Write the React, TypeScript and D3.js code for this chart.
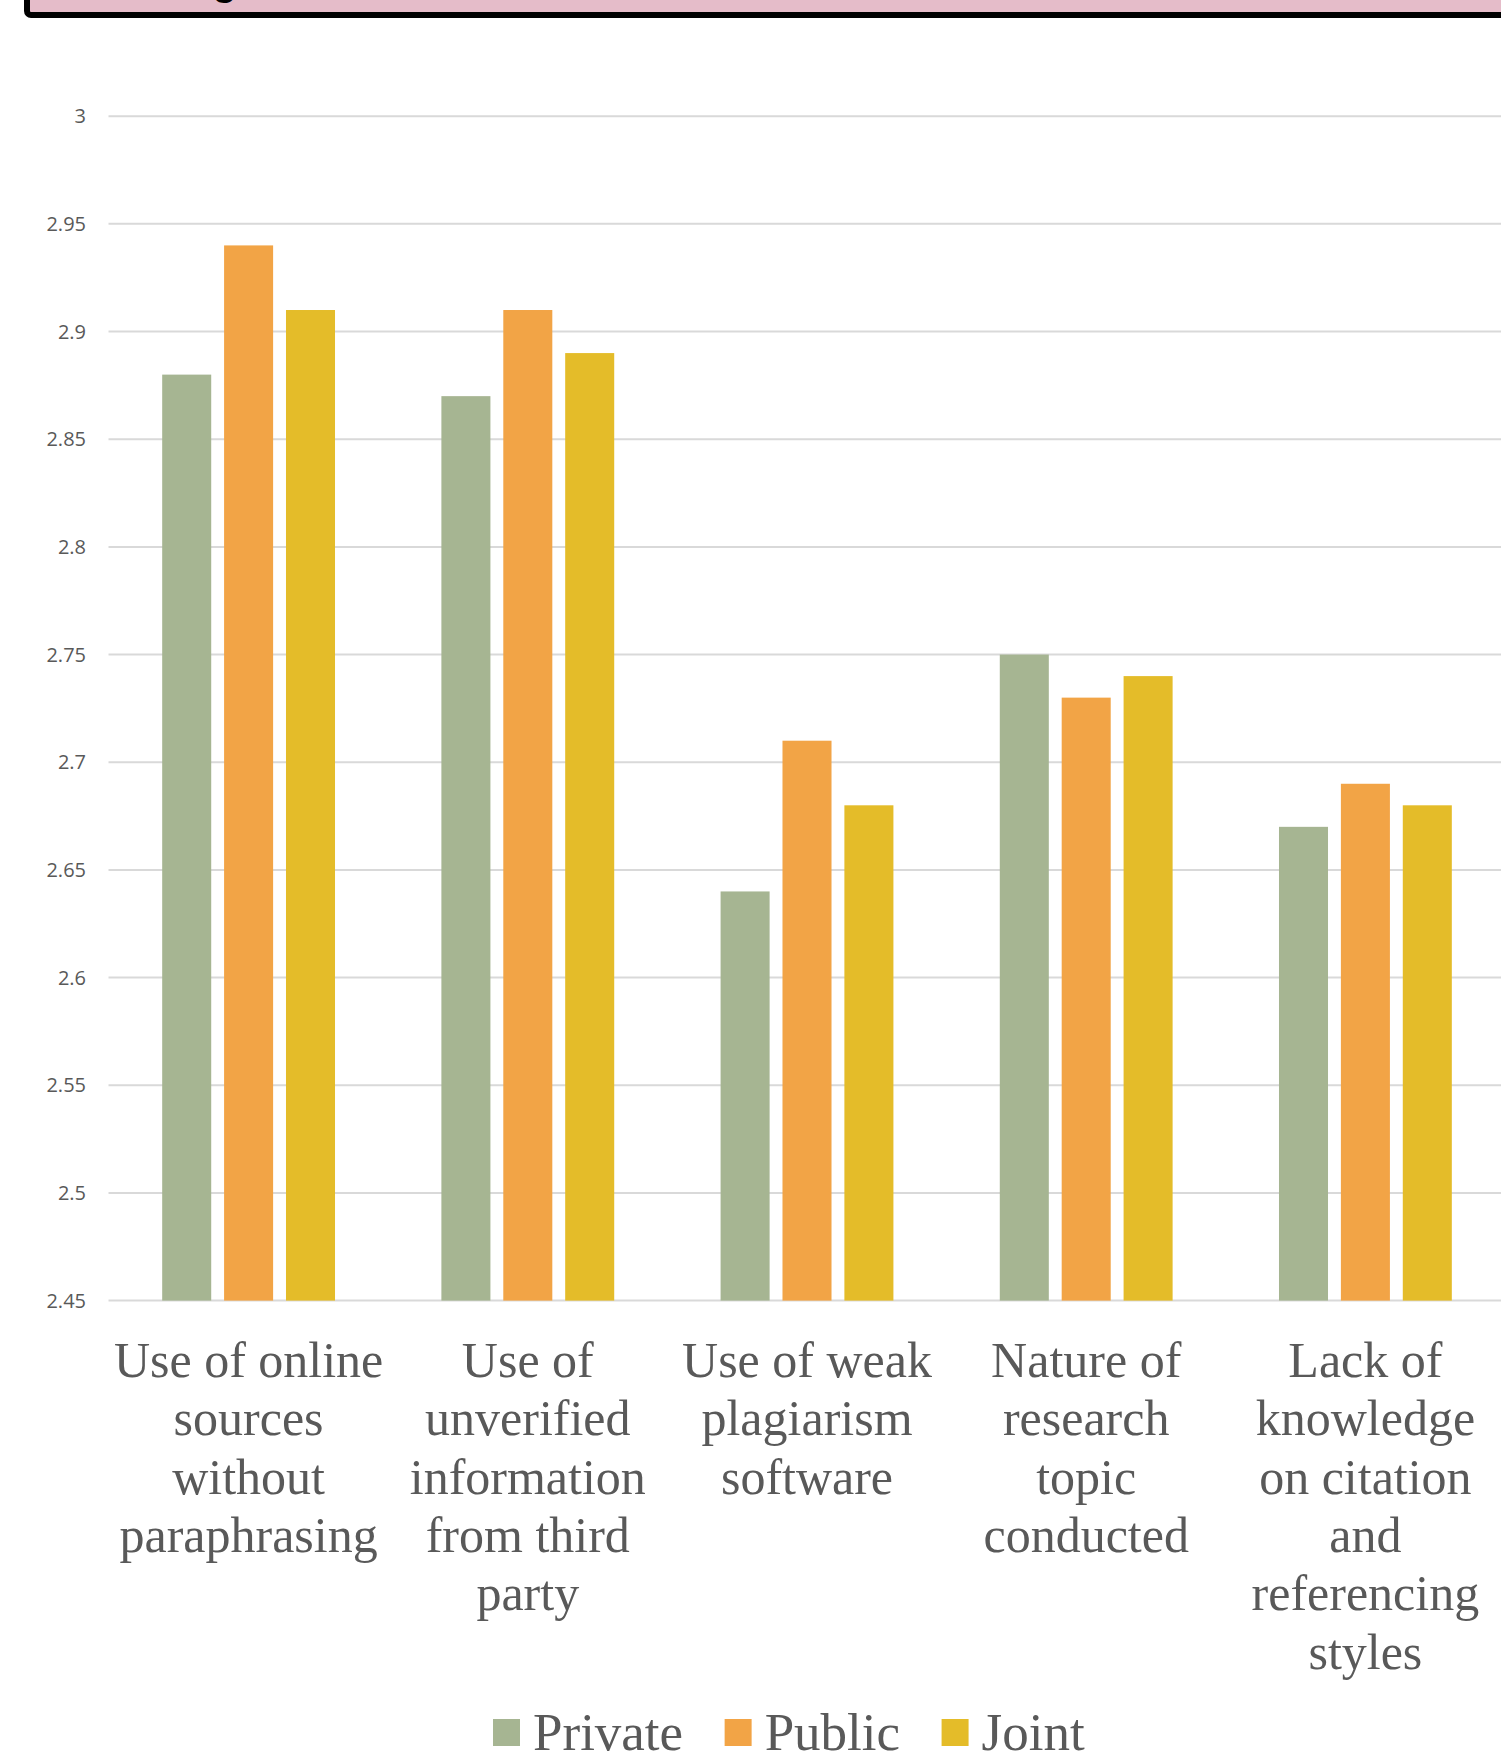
import React, { useEffect, useRef } from "react";
import * as d3 from "d3";

// Chart data
const categories = [
  "Use of online sources without paraphrasing",
  "Use of unverified information from third party",
  "Use of weak plagiarism software",
  "Nature of research topic conducted",
  "Lack of knowledge on citation and referencing styles",
];
const seriesNames = ["Private", "Public", "Joint"];
const privateValues = [2.88, 2.87, 2.64, 2.75, 2.67];
const publicValues = [2.94, 2.91, 2.71, 2.73, 2.69];
const jointValues = [2.91, 2.89, 2.68, 2.74, 2.68];
const tickValues = [2.45, 2.5, 2.55, 2.6, 2.65, 2.7, 2.75, 2.8, 2.85, 2.9, 2.95, 3];
const seriesColors = ["#A6B592", "#F2A446", "#E4BC29"];

const W = 1501;
const H = 1752;

export default function App() {
  const ref = useRef<SVGSVGElement | null>(null);

  useEffect(() => {
    const svg = d3.select(ref.current);
    svg.selectAll("*").remove();

    const seriesValues = [privateValues, publicValues, jointValues];

    const plotLeft = 109;
    const plotRight = 1505;
    const y = d3.scaleLinear().domain([2.45, 3]).range([1300.6, 116.2]);
    const x0 = d3
      .scaleBand<string>()
      .domain(categories)
      .range([plotLeft, plotRight])
      .paddingInner(0.381)
      .paddingOuter(0.1905);
    const x1 = d3
      .scaleBand<string>()
      .domain(seriesNames)
      .range([0, x0.bandwidth()])
      .paddingInner(0.208)
      .paddingOuter(0);

    // Header box, mostly outside the visible area
    const clipId = "hdrclip";
    svg
      .append("defs")
      .append("clipPath")
      .attr("id", clipId)
      .append("rect")
      .attr("x", 30)
      .attr("y", -40)
      .attr("width", W)
      .attr("height", 52);
    svg
      .append("rect")
      .attr("x", 27)
      .attr("y", -40)
      .attr("width", W + 20)
      .attr("height", 55)
      .attr("rx", 4)
      .attr("fill", "#E5BCC9")
      .attr("stroke", "#000")
      .attr("stroke-width", 6);
    svg
      .append("text")
      .attr("clip-path", `url(#${clipId})`)
      .attr("x", 177)
      .attr("y", -5.5)
      .attr("font-family", "'Liberation Sans', Arial, sans-serif")
      .attr("font-weight", "bold")
      .attr("font-size", 40)
      .attr("fill", "#000")
      .text("Figure");

    // Gridlines
    svg
      .append("g")
      .selectAll("line")
      .data(tickValues)
      .join("line")
      .attr("x1", plotLeft - 0.5)
      .attr("x2", W)
      .attr("y1", (d) => y(d))
      .attr("y2", (d) => y(d))
      .attr("stroke", "#D9D9D9")
      .attr("stroke-width", 2);

    // Y tick labels
    svg
      .append("g")
      .selectAll("text")
      .data(tickValues)
      .join("text")
      .attr("x", 86)
      .attr("y", (d) => y(d))
      .attr("dy", "0.35em")
      .attr("text-anchor", "end")
      .attr("font-family", "'Open Sans', sans-serif")
      .attr("font-size", 20)
      .attr("fill", "#595959")
      .text((d) => String(d));

    // Bars
    const groups = svg
      .append("g")
      .selectAll("g")
      .data(categories)
      .join("g")
      .attr("transform", (d) => `translate(${x0(d)},0)`);

    groups
      .selectAll("rect")
      .data((_, i) => seriesNames.map((s, k) => ({ s, k, v: seriesValues[k][i] })))
      .join("rect")
      .attr("x", (d) => x1(d.s) as number)
      .attr("width", x1.bandwidth())
      .attr("y", (d) => y(d.v))
      .attr("height", (d) => y(2.45) - y(d.v))
      .attr("fill", (d) => seriesColors[d.k]);

    // Category labels, wrapped to the band width
    const maxLineWidth = 275;
    const lineHeight = 58.3;
    const labelG = svg.append("g");
    categories.forEach((cat) => {
      const cx = (x0(cat) as number) + x0.bandwidth() / 2;
      const t = labelG
        .append("text")
        .attr("text-anchor", "middle")
        .attr("font-family", "'Liberation Serif', 'Times New Roman', serif")
        .attr("font-size", 50)
        .attr("fill", "#595959");
      const words = cat.split(" ");
      let lineIdx = 0;
      let current: string[] = [];
      let tspan = t.append("tspan").attr("x", cx).attr("y", 1377);
      words.forEach((w) => {
        current.push(w);
        tspan.text(current.join(" "));
        const node = tspan.node() as SVGTSpanElement;
        if (node.getComputedTextLength() > maxLineWidth && current.length > 1) {
          current.pop();
          tspan.text(current.join(" "));
          current = [w];
          lineIdx += 1;
          tspan = t
            .append("tspan")
            .attr("x", cx)
            .attr("y", 1377 + lineIdx * lineHeight)
            .text(w);
        }
      });
    });

    // Legend
    const legend = svg.append("g");
    let lx = 493;
    seriesNames.forEach((name, k) => {
      legend
        .append("rect")
        .attr("x", lx)
        .attr("y", 1719)
        .attr("width", 27)
        .attr("height", 27)
        .attr("fill", seriesColors[k]);
      const txt = legend
        .append("text")
        .attr("x", lx + 40)
        .attr("y", 1750)
        .attr("font-family", "'Liberation Serif', 'Times New Roman', serif")
        .attr("font-size", 53)
        .attr("fill", "#595959")
        .text(name);
      const tw = (txt.node() as SVGTextElement).getComputedTextLength();
      lx = lx + 40 + tw + 41.5;
    });
  }, []);

  return (
    <svg
      ref={ref}
      width={W}
      height={H}
      viewBox={`0 0 ${W} ${H}`}
      style={{ position: "absolute", left: 0, top: 0, background: "#fff", display: "block" }}
    />
  );
}
